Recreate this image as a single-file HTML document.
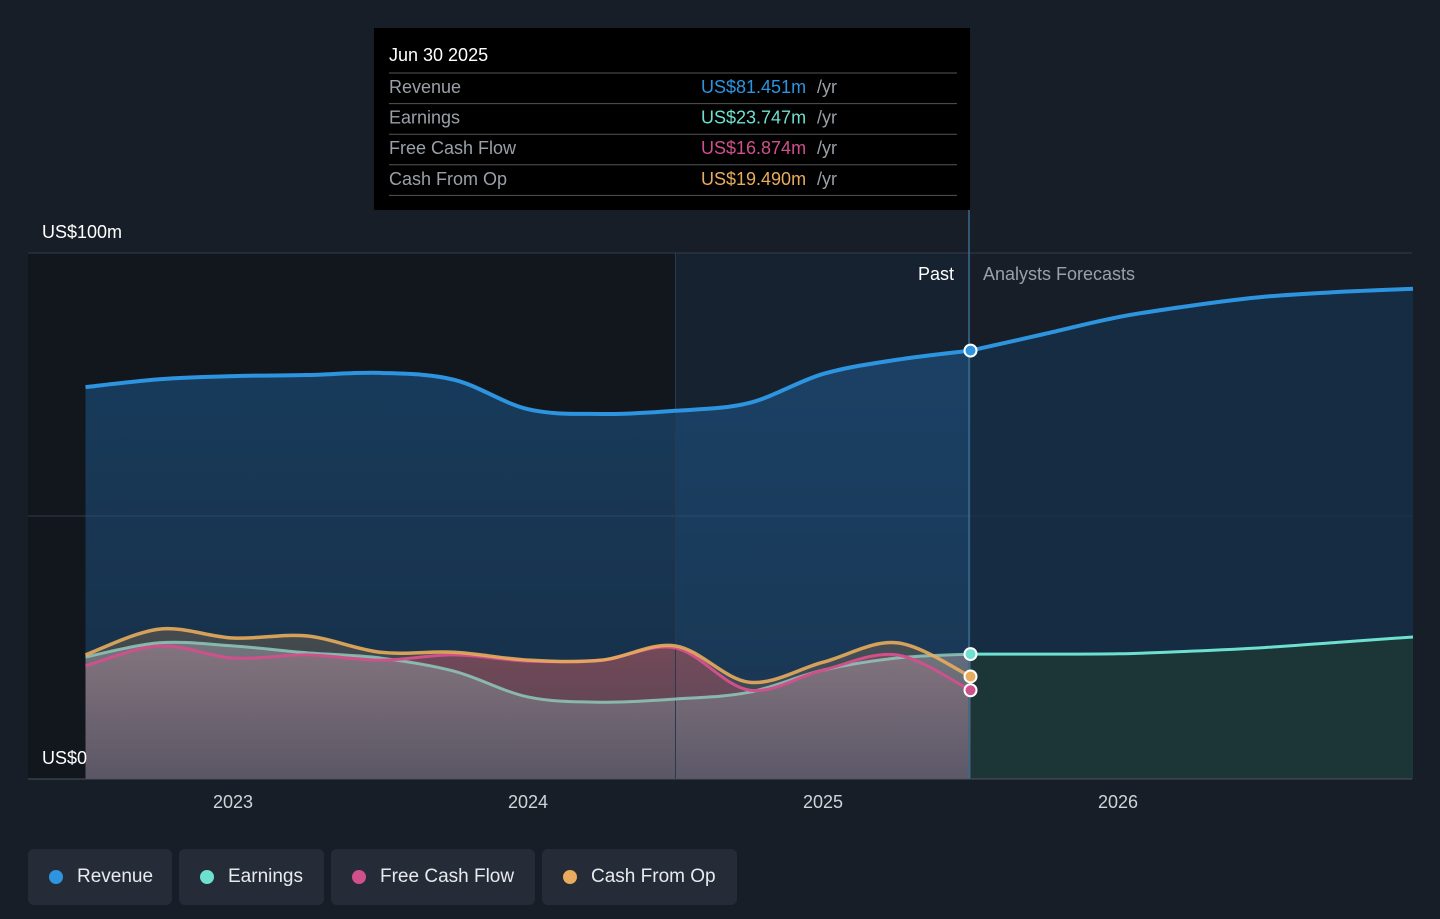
<!DOCTYPE html>
<html><head><meta charset="utf-8"><style>
body{margin:0;background:#181e27;font-family:"Liberation Sans",sans-serif;}
svg text{font-family:"Liberation Sans",sans-serif;}
.leg{position:absolute;top:849px;height:56px;background:#252c37;border-radius:6px;color:#e8eaed;font-size:19px;line-height:56px;box-sizing:border-box;padding-left:49px}
.leg i{position:absolute;left:21px;top:21px;width:14px;height:14px;border-radius:50%}
</style></head><body>
<div style="position:relative;width:1440px;height:919px;overflow:hidden">
<svg id="c" width="1440" height="919" style="position:absolute;left:0;top:0">
<defs>
<linearGradient id="gRev" x1="0" y1="0" x2="0" y2="1"><stop offset="0" stop-color="#1e5a90" stop-opacity="0.55"/><stop offset="1" stop-color="#1e5a90" stop-opacity="0.35"/></linearGradient>
<linearGradient id="gGrey" x1="0" y1="0" x2="0" y2="1"><stop offset="0" stop-color="#8a8890" stop-opacity="0.7"/><stop offset="1" stop-color="#6a7280" stop-opacity="0.45"/></linearGradient>
<linearGradient id="gFcf" x1="0" y1="0" x2="0" y2="1"><stop offset="0" stop-color="#9a4a60" stop-opacity="0.55"/><stop offset="1" stop-color="#9a4a60" stop-opacity="0.3"/></linearGradient>
<linearGradient id="gCfo" x1="0" y1="0" x2="0" y2="1"><stop offset="0" stop-color="#8a7050" stop-opacity="0.4"/><stop offset="1" stop-color="#8a7050" stop-opacity="0.2"/></linearGradient>
</defs>
</svg>
<div class="leg" style="left:28px;width:144px"><i style="background:#2d94e0"></i>Revenue</div>
<div class="leg" style="left:179px;width:145px"><i style="background:#6de0cf"></i>Earnings</div>
<div class="leg" style="left:331px;width:204px"><i style="background:#d0508c"></i>Free Cash Flow</div>
<div class="leg" style="left:542px;width:195px"><i style="background:#e8ac5c"></i>Cash From Op</div>
</div>
<script>
const pastDates=[2022.5,2022.75,2023,2023.25,2023.5,2023.75,2024,2024.25,2024.5,2024.75,2025,2025.25,2025.5];
const revenue=[74.5,76,76.6,76.8,77.2,75.9,70.3,69.4,70,71.5,77,79.7,81.451];
const earnings=[23.2,25.9,25.3,24,23,20.5,15.6,14.6,15.2,16.5,20.7,23,23.747];
const fcf=[21.5,25.3,23,23.6,22.6,23.6,22.4,22.6,24.9,16.9,20.7,23.6,16.874];
const cfo=[23.6,28.5,26.8,27.2,24.1,24.1,22.6,22.6,25.3,18.4,22.2,25.9,19.49];
const fcDates=[2025.5,2025.75,2026,2026.25,2026.5,2026.75,2027];
const revenueFc=[81.451,84.6,87.8,90,91.7,92.6,93.2];
const earningsFc=[23.747,23.75,23.8,24.3,25,26,27];
const xTicks=[2023,2024,2025,2026];
const yTicks=[0,50,100];
const X=d=>233+(d-2023)*295, Y=v=>779-v*5.26;
const svg=document.getElementById('c');
const NS='http://www.w3.org/2000/svg';
function add(tag,attrs,name,txt){const e=document.createElementNS(NS,tag);for(const k in attrs)e.setAttribute(k,attrs[k]);


if(txt!==undefined)e.textContent=txt;svg.appendChild(e);return e;}
function pathD(ds,vs){const p=ds.map((d,i)=>[X(d),Y(vs[i])]);let s=`M${p[0][0]},${p[0][1]}`;
for(let i=0;i<p.length-1;i++){const a=p[i-1]||p[i],b=p[i],c=p[i+1],d=p[i+2]||c;
s+=` C${b[0]+(c[0]-a[0])/6},${b[1]+(c[1]-a[1])/6} ${c[0]-(d[0]-b[0])/6},${c[1]-(d[1]-b[1])/6} ${c[0]},${c[1]}`;}return s;}
function area(ds,vs){return pathD(ds,vs)+` L${X(ds[ds.length-1])},779 L${X(ds[0])},779 Z`;}
add('rect',{x:28,y:253,width:X(2024.5)-28,height:526,fill:'#12161d'},'past-bg');
add('rect',{x:X(2024.5),y:253,width:X(2025.5)-X(2024.5),height:526,fill:'#172230'},'highlight-bg');
yTicks.forEach(t=>add('line',{x1:28,x2:1412,y1:Y(t),y2:Y(t),stroke:'#343c47','stroke-width':1},'gridline'));
add('path',{d:area(fcDates,revenueFc),fill:'#15304a',opacity:0.8},'revenue-forecast-area');
add('path',{d:area(fcDates,earningsFc),fill:'#1c3536'},'earnings-forecast-area');
add('path',{d:area(pastDates,revenue),fill:'url(#gRev)'},'revenue-area');
add('path',{d:area(pastDates,cfo),fill:'url(#gCfo)'},'cfo-area');
add('path',{d:area(pastDates,fcf),fill:'url(#gFcf)'},'fcf-area');
add('path',{d:area(pastDates,earnings),fill:'url(#gGrey)'},'earnings-area');
add('line',{x1:X(2024.5),x2:X(2024.5),y1:253,y2:779,stroke:'#2a3a4c'},'highlight-edge');
add('line',{x1:969,x2:969,y1:210,y2:779,stroke:'#3a6a8c','stroke-width':1.5},'cursor-line');
add('path',{d:pathD(fcDates,earningsFc),fill:'none',stroke:'#6de0cf','stroke-width':3},'earnings-forecast-line');
add('path',{d:pathD(fcDates,revenueFc),fill:'none',stroke:'#2d94e0','stroke-width':4},'revenue-forecast-line');
add('path',{d:pathD(pastDates,earnings),fill:'none',stroke:'#8fc8ba','stroke-width':3,opacity:0.85},'earnings-line');
add('path',{d:pathD(pastDates,fcf),fill:'none',stroke:'#d0508c','stroke-width':3},'fcf-line');
add('path',{d:pathD(pastDates,cfo),fill:'none',stroke:'#e8ac5c','stroke-width':3.5,opacity:0.9},'cfo-line');
add('path',{d:pathD(pastDates,revenue),fill:'none',stroke:'#2d94e0','stroke-width':4},'revenue-line');
[[revenue,'#2d94e0','revenue-point'],[earnings,'#6de0cf','earnings-point'],[cfo,'#e8ac5c','cfo-point'],[fcf,'#d0508c','fcf-point']].forEach(([a,c,n])=>
add('circle',{cx:X(2025.5),cy:Y(a[a.length-1]),r:6,fill:c,stroke:'#fff','stroke-width':2},n));
xTicks.forEach(t=>add('text',{x:X(t),y:808,fill:'#d0d3d8','font-size':18,'text-anchor':'middle'},'x-tick-label',String(t)));
add('line',{x1:28,x2:1412,y1:779,y2:779,stroke:'#4a525d'},'x-axis');
add('text',{x:42,y:238,fill:'#fff','font-size':18},'y-label-top','US$100m');
add('text',{x:42,y:764,fill:'#fff','font-size':18},'y-label-bottom','US$0');
add('text',{x:954,y:280,fill:'#fff','font-size':18,'text-anchor':'end'},'past-label','Past');
add('text',{x:983,y:280,fill:'#9aa0a8','font-size':18},'forecast-label','Analysts Forecasts');
add('rect',{x:374,y:28,width:596,height:182,fill:'#000'},'tooltip');
add('text',{x:389,y:61,fill:'#fff','font-size':18},'tooltip-date','Jun 30 2025');
const rows=[['Revenue','US$81.451m','#2d94e0'],['Earnings','US$23.747m','#6de0cf'],['Free Cash Flow','US$16.874m','#d0508c'],['Cash From Op','US$19.490m','#e8ac5c']];
rows.forEach((r,i)=>{const y=73+i*30.6;
add('line',{x1:389,x2:957,y1:y,y2:y,stroke:'#555'},'tooltip-divider');
add('text',{x:389,y:y+20,fill:'#9aa0a8','font-size':18},'tooltip-label',r[0]);
add('text',{x:701,y:y+20,fill:r[2],'font-size':18},'tooltip-value',r[1]);
add('text',{x:817,y:y+20,fill:'#9aa0a8','font-size':18},'tooltip-unit','/yr');});
add('line',{x1:389,x2:957,y1:195.4,y2:195.4,stroke:'#555'},'tooltip-divider');
</script></body></html>
